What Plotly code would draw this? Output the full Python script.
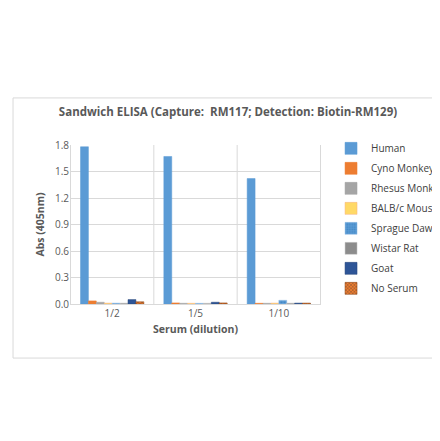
import plotly.graph_objects as go

categories = ["1/2", "1/5", "1/10"]
series = ["Human", "Cyno Monkey", "Rhesus Monkey", "BALB/c Mouse",
          "Sprague Dawley Rat", "Wistar Rat", "Goat", "No Serum"]
values = [
    [1.78, 1.67, 1.42],
    [0.035, 0.012, 0.008],
    [0.02, 0.008, 0.008],
    [0.01, 0.008, 0.01],
    [0.01, 0.008, 0.042],
    [0.01, 0.008, 0.01],
    [0.05, 0.02, 0.01],
    [0.025, 0.012, 0.01],
]
colors = ["#5B9BD5", "#ED7D31", "#A5A5A5", "#FFD966",
          "#5B9BD5", "#8C8C8C", "#2E5597", "#ED7D31"]
lines = ["#5B9BD5", "#ED7D31", "#A5A5A5", "#F4B183",
         "#9DC3E6", "#C9C9C9", "#264478", "#843C0C"]
patterns = ["", "", "", "", ".", "", "", "x"]

fig = go.Figure()
for name, vals, c, lc, p in zip(series, values, colors, lines, patterns):
    fig.add_trace(go.Bar(
        x=categories, y=vals, name=name, legendgroup=name,
        marker=dict(color=c, line=dict(color=lc, width=0.5),
                    pattern=dict(shape=p, fgcolor="#333" if p == "x" else "#2E75B6", size=3, solidity=0.4)),
    ))

fig.update_layout(
    width=440, height=441,
    paper_bgcolor="white", plot_bgcolor="white",
    font=dict(family="Open Sans", color="#595959", size=10),
    title=dict(text="<b>Sandwich ELISA (Capture:  RM117; Detection: Biotin-RM129)</b>",
               x=0.5, xanchor="center", y=0.764, yanchor="middle", font=dict(size=11.5, color="#595959")),
    bargap=0.24, bargroupgap=0.0,
    margin=dict(l=62, r=127, t=137, b=145, autoexpand=False),
    showlegend=True,
    legend=dict(x=1.04, y=1.07, yanchor="top", font=dict(size=10, color="#404040"),
                tracegroupgap=1, itemwidth=30),
    shapes=[dict(type="rect", xref="paper", yref="paper", x0=-0.227, x1=1.486, y0=-0.34, y1=1.296,
                 line=dict(color="#D9D9D9", width=1))],
)
fig.update_yaxes(range=[0, 1.8], dtick=0.3, tickformat=".1f", gridcolor="#D9D9D9",
                 title=dict(text="<b>Abs (405nm)</b>", font=dict(size=10.5), standoff=8),
                 zeroline=False, showline=False, ticks="")
fig.update_xaxes(showline=True, linecolor="#D9D9D9", showgrid=False,
                 title=dict(text="<b>Serum (dilution)</b>", font=dict(size=10.5), standoff=6))
for xb in [-0.5, 0.5, 1.5, 2.5]:
    fig.add_shape(type="line", xref="x", yref="paper", x0=xb, x1=xb, y0=0, y1=1,
                  line=dict(color="#D9D9D9", width=1))

fig.write_html("out.html")
